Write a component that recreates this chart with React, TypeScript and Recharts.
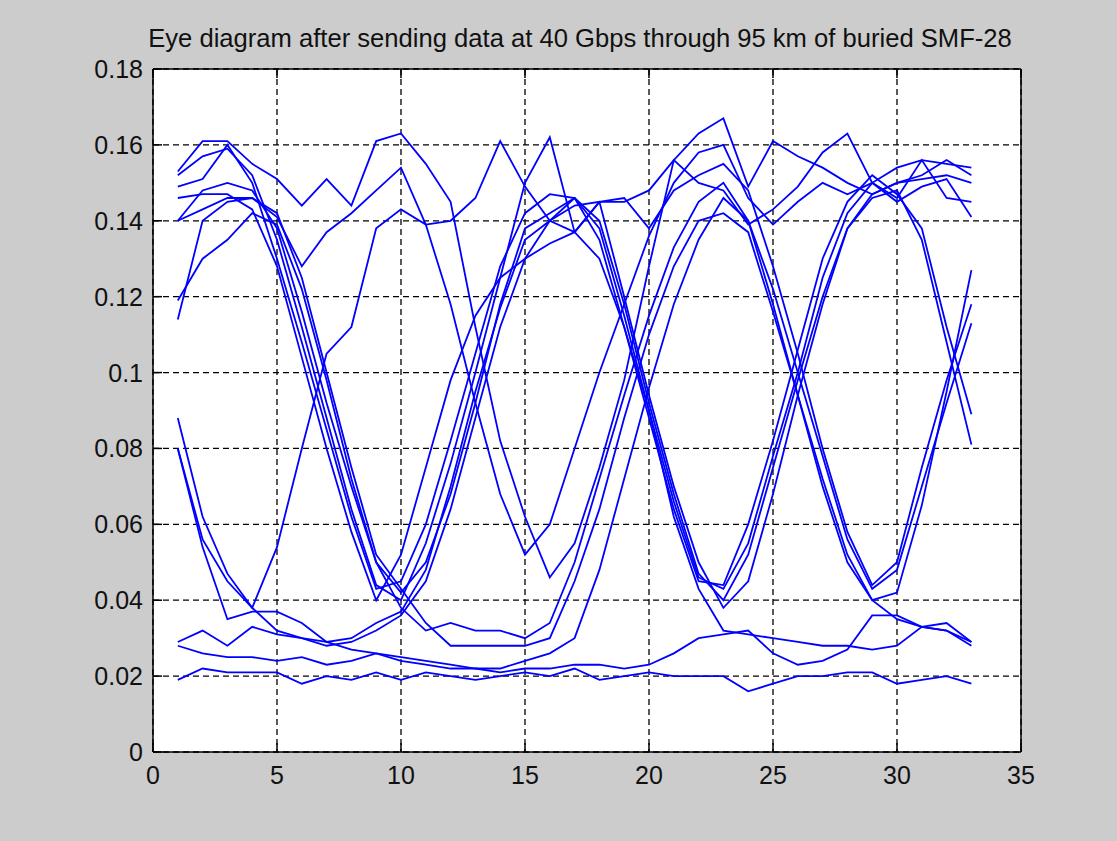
import { LineChart, Line, XAxis, YAxis, CartesianGrid } from "recharts";

const xs = [1, 2, 3, 4, 5, 6, 7, 8, 9, 10, 11, 12, 13, 14, 15, 16, 17, 18, 19, 20, 21, 22, 23, 24, 25, 26, 27, 28, 29, 30, 31, 32, 33];

const xTicks = [0, 5, 10, 15, 20, 25, 30, 35];
const yTicks = [0, 0.02, 0.04, 0.06, 0.08, 0.1, 0.12, 0.14, 0.16, 0.18];

const title = "Eye diagram after sending data at 40 Gbps through 95 km of buried SMF-28";

// one array per captured trace, sample 1..33
const trace01 = [0.153, 0.161, 0.161, 0.155, 0.151, 0.144, 0.151, 0.144, 0.161, 0.163, 0.155, 0.145, 0.112, 0.082, 0.062, 0.046, 0.055, 0.075, 0.098, 0.128, 0.156, 0.163, 0.167, 0.149, 0.161, 0.157, 0.154, 0.150, 0.147, 0.150, 0.152, 0.156, 0.152];
const trace02 = [0.140, 0.143, 0.146, 0.146, 0.141, 0.128, 0.137, 0.142, 0.148, 0.154, 0.139, 0.118, 0.092, 0.068, 0.052, 0.060, 0.080, 0.100, 0.118, 0.136, 0.150, 0.158, 0.160, 0.146, 0.139, 0.145, 0.150, 0.147, 0.150, 0.146, 0.156, 0.146, 0.145];
const trace03 = [0.088, 0.062, 0.047, 0.038, 0.054, 0.080, 0.105, 0.112, 0.138, 0.143, 0.139, 0.140, 0.146, 0.161, 0.149, 0.140, 0.137, 0.145, 0.146, 0.138, 0.148, 0.152, 0.155, 0.148, 0.128, 0.105, 0.080, 0.058, 0.044, 0.050, 0.075, 0.098, 0.118];
const trace04 = [0.152, 0.157, 0.159, 0.152, 0.135, 0.112, 0.088, 0.064, 0.044, 0.040, 0.055, 0.076, 0.100, 0.125, 0.150, 0.162, 0.137, 0.130, 0.112, 0.090, 0.066, 0.046, 0.043, 0.055, 0.078, 0.100, 0.125, 0.142, 0.150, 0.154, 0.156, 0.155, 0.154];
const trace05 = [0.149, 0.151, 0.160, 0.150, 0.130, 0.108, 0.085, 0.062, 0.043, 0.045, 0.060, 0.082, 0.105, 0.128, 0.142, 0.147, 0.146, 0.138, 0.115, 0.090, 0.062, 0.043, 0.032, 0.031, 0.030, 0.029, 0.028, 0.028, 0.027, 0.028, 0.033, 0.034, 0.029];
const trace06 = [0.146, 0.147, 0.147, 0.143, 0.128, 0.104, 0.080, 0.058, 0.040, 0.052, 0.075, 0.098, 0.115, 0.125, 0.130, 0.134, 0.137, 0.145, 0.145, 0.148, 0.156, 0.150, 0.148, 0.139, 0.143, 0.149, 0.158, 0.163, 0.150, 0.145, 0.149, 0.151, 0.141];
const trace07 = [0.140, 0.148, 0.150, 0.148, 0.138, 0.116, 0.092, 0.070, 0.050, 0.038, 0.032, 0.034, 0.032, 0.032, 0.030, 0.034, 0.050, 0.072, 0.094, 0.115, 0.133, 0.145, 0.150, 0.140, 0.122, 0.100, 0.078, 0.056, 0.043, 0.048, 0.070, 0.092, 0.113];
const trace08 = [0.119, 0.130, 0.135, 0.142, 0.139, 0.122, 0.098, 0.072, 0.050, 0.042, 0.050, 0.068, 0.092, 0.118, 0.138, 0.142, 0.146, 0.135, 0.112, 0.088, 0.064, 0.045, 0.044, 0.060, 0.082, 0.106, 0.130, 0.145, 0.152, 0.147, 0.138, 0.112, 0.089];
const trace09 = [0.114, 0.140, 0.145, 0.146, 0.142, 0.125, 0.100, 0.075, 0.052, 0.043, 0.034, 0.028, 0.028, 0.028, 0.028, 0.030, 0.045, 0.064, 0.088, 0.110, 0.128, 0.140, 0.142, 0.137, 0.116, 0.094, 0.072, 0.052, 0.040, 0.042, 0.065, 0.095, 0.127];
const trace10 = [0.080, 0.054, 0.035, 0.037, 0.037, 0.034, 0.029, 0.030, 0.034, 0.037, 0.048, 0.070, 0.095, 0.117, 0.135, 0.140, 0.146, 0.140, 0.118, 0.092, 0.068, 0.047, 0.040, 0.052, 0.075, 0.098, 0.120, 0.138, 0.147, 0.150, 0.151, 0.152, 0.150];
const trace11 = [0.080, 0.056, 0.045, 0.038, 0.032, 0.030, 0.029, 0.027, 0.026, 0.025, 0.024, 0.023, 0.022, 0.022, 0.024, 0.026, 0.030, 0.048, 0.072, 0.096, 0.118, 0.135, 0.146, 0.140, 0.118, 0.094, 0.070, 0.050, 0.040, 0.035, 0.033, 0.032, 0.028];
const trace12 = [0.029, 0.032, 0.028, 0.033, 0.031, 0.030, 0.028, 0.029, 0.032, 0.036, 0.045, 0.064, 0.088, 0.112, 0.130, 0.140, 0.144, 0.145, 0.120, 0.094, 0.070, 0.050, 0.038, 0.045, 0.068, 0.094, 0.118, 0.138, 0.146, 0.148, 0.135, 0.108, 0.081];
const trace13 = [0.028, 0.026, 0.025, 0.025, 0.024, 0.025, 0.023, 0.024, 0.026, 0.024, 0.023, 0.022, 0.022, 0.021, 0.022, 0.022, 0.023, 0.023, 0.022, 0.023, 0.026, 0.030, 0.031, 0.032, 0.026, 0.023, 0.024, 0.027, 0.036, 0.036, 0.033, 0.032, 0.029];
const trace14 = [0.019, 0.022, 0.021, 0.021, 0.021, 0.018, 0.020, 0.019, 0.021, 0.019, 0.021, 0.020, 0.019, 0.020, 0.021, 0.020, 0.022, 0.019, 0.020, 0.021, 0.020, 0.020, 0.020, 0.016, 0.018, 0.020, 0.020, 0.021, 0.021, 0.018, 0.019, 0.020, 0.018];

const traces = [trace01, trace02, trace03, trace04, trace05, trace06, trace07, trace08, trace09, trace10, trace11, trace12, trace13, trace14];

const data = xs.map((x, i) => {
  const row: Record<string, number> = { x };
  traces.forEach((t, k) => {
    row["s" + k] = t[i];
  });
  return row;
});

const FONT = "'Liberation Sans', Arial, Helvetica, sans-serif";
const TICK_LEN = 9;

const BottomTick = (props: any) => {
  const { x, y, payload } = props;
  return (
    <g>
      <line x1={x} y1={y} x2={x} y2={y - TICK_LEN} stroke="#000" strokeWidth={1.5} />
      <text x={x} y={y + 32} textAnchor="middle" fontSize={25} fontFamily={FONT} fill="#111">
        {payload.value}
      </text>
    </g>
  );
};

const TopTick = (props: any) => {
  const { x, y } = props;
  return <line x1={x} y1={y} x2={x} y2={y + TICK_LEN} stroke="#000" strokeWidth={1.5} />;
};

const LeftTick = (props: any) => {
  const { x, y, payload } = props;
  return (
    <g>
      <line x1={x} y1={y} x2={x + TICK_LEN} y2={y} stroke="#000" strokeWidth={1.5} />
      <text x={x - 10} y={y + 9} textAnchor="end" fontSize={25} fontFamily={FONT} fill="#111">
        {payload.value}
      </text>
    </g>
  );
};

const RightTick = (props: any) => {
  const { x, y } = props;
  return <line x1={x} y1={y} x2={x - TICK_LEN} y2={y} stroke="#000" strokeWidth={1.5} />;
};

const axisLine = { stroke: "#000", strokeWidth: 1.5 };

export default function App() {
  return (
    <div style={{ position: "absolute", left: 0, top: 0, width: 1117, height: 841, background: "#cccccc" }}>
      <div
        style={{
          position: "absolute",
          left: 0,
          top: 26,
          width: 1160,
          textAlign: "center",
          fontFamily: FONT,
          fontSize: 25.6,
          lineHeight: "25px",
          color: "#111",
          whiteSpace: "nowrap",
        }}
      >
        {title}
      </div>
      <LineChart width={1117} height={841} data={data} margin={{ top: 39, right: 66, bottom: 59, left: 93 }}>
        <CartesianGrid fill="#ffffff" stroke="#000" strokeWidth={1.3} strokeDasharray="6 4" />
        <XAxis
          dataKey="x"
          type="number"
          domain={[0, 35]}
          ticks={xTicks}
          interval={0}
          height={30}
          tickSize={0}
          tickMargin={0}
          axisLine={axisLine}
          tick={<BottomTick />}
        />
        <XAxis
          xAxisId="top"
          orientation="top"
          dataKey="x"
          type="number"
          domain={[0, 35]}
          ticks={xTicks}
          interval={0}
          height={30}
          tickSize={0}
          tickMargin={0}
          axisLine={axisLine}
          tick={<TopTick />}
        />
        <YAxis
          type="number"
          domain={[0, 0.18]}
          ticks={yTicks}
          interval={0}
          width={60}
          tickSize={0}
          tickMargin={0}
          axisLine={axisLine}
          tick={<LeftTick />}
        />
        <YAxis
          yAxisId="right"
          orientation="right"
          type="number"
          domain={[0, 0.18]}
          ticks={yTicks}
          interval={0}
          width={30}
          tickSize={0}
          tickMargin={0}
          axisLine={axisLine}
          tick={<RightTick />}
        />
        {traces.map((_, k) => (
          <Line
            key={k}
            type="linear"
            dataKey={"s" + k}
            stroke="#0000ff"
            strokeWidth={1.8}
            dot={false}
            activeDot={false}
            isAnimationActive={false}
          />
        ))}
      </LineChart>
    </div>
  );
}
